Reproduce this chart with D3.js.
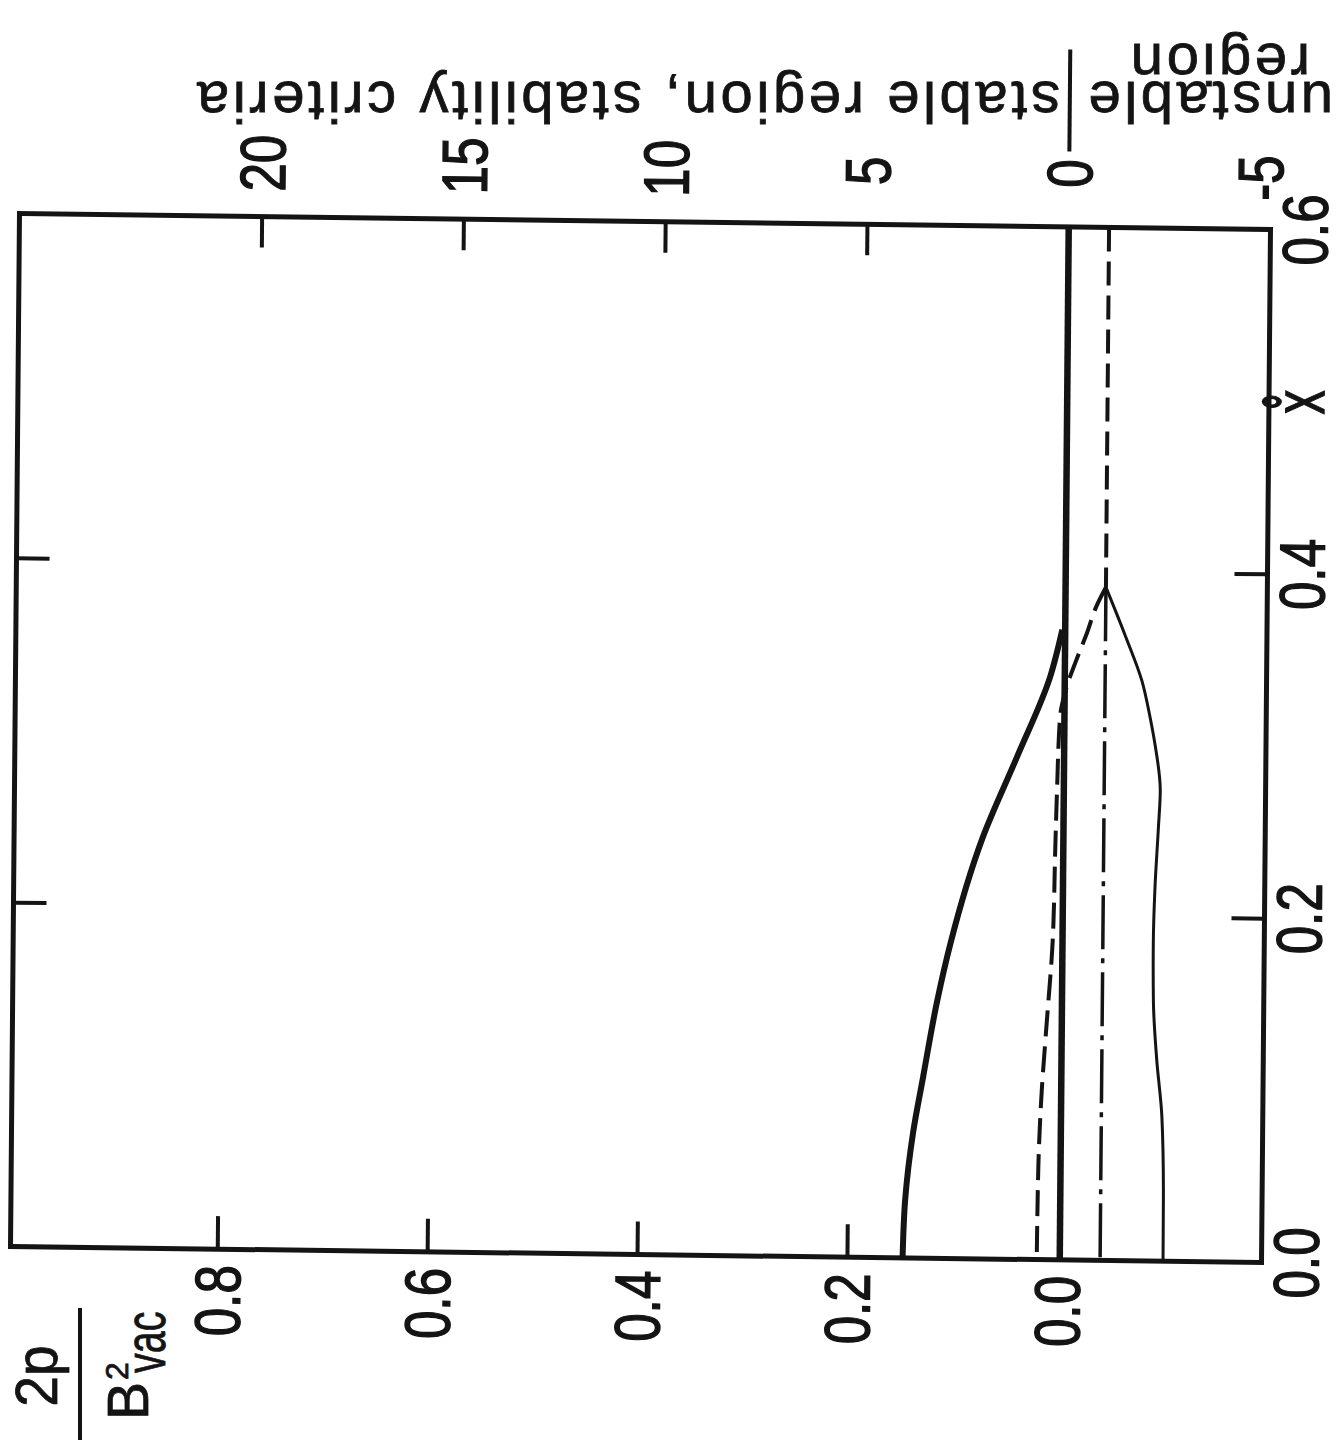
<!DOCTYPE html>
<html>
<head>
<meta charset="utf-8">
<script src="https://cdn.jsdelivr.net/npm/d3@7"></script>
<style>
  html, body { margin: 0; padding: 0; background: #fff; }
  svg { display: block; }
  text { font-family: "Liberation Sans", Arial, sans-serif; fill: #141414; stroke: #141414; stroke-width: 0.8; }
</style>
</head>
<body>
<svg id="chart" width="1341" height="1442"></svg>
<script>
// ---- scales / ticks ----
// profile coordinate x̊ (runs up the page)
const xTickValues = [0.2, 0.4];
const xLabelValues = [0.0, 0.2, 0.4, 0.6];
// normalised pressure 2p/B²vac (bottom scale)
const pTickValues = [0.2, 0.4, 0.6, 0.8];
const pLabelValues = [0.0, 0.2, 0.4, 0.6, 0.8];
// stability criteria (top scale)
const critTickValues = [20, 15, 10, 5, 0];
const critLabelValues = [20, 15, 10, 5, 0];
const critLabelEdge = [-5];

// ---- curves ----
// pressure profile 2p/B²vac against x̊
const pressureX = [0, 0.034, 0.073, 0.105, 0.150, 0.183, 0.245, 0.292, 0.339, 0.366];
const pressure  = [0.147, 0.145, 0.138, 0.129, 0.116, 0.104, 0.074, 0.042, 0.011, 0.0];

// marginal line of the stability criteria
const zeroX    = [0, 0.6];
const zeroCrit = [0, 0];

// dashed criterion
const dashedX    = [0, 0.054, 0.099, 0.132, 0.19, 0.238, 0.271, 0.315, 0.333, 0.349, 0.364, 0.38, 0.391, 0.6];
const dashedCrit = [0.57, 0.55, 0.48, 0.39, 0.235, 0.20, 0.17, 0.11, -0.05, -0.29, -0.535, -0.77, -1.0, -1.0];

// dash-dot criterion
const dashDotX    = [0, 0.391];
const dashDotCrit = [-1.0, -1.0];

// thin solid criterion
const thinX    = [0, 0.037, 0.084, 0.117, 0.151, 0.184, 0.217, 0.251, 0.273, 0.30, 0.316, 0.337, 0.363, 0.391];
const thinCrit = [-2.56, -2.555, -2.50, -2.36, -2.265, -2.25, -2.28, -2.35, -2.39, -2.25, -2.12, -1.91, -1.49, -1.0];

// ---- drawing ----
const W = 1341, H = 1442;
const ink = "#141414";
const frame = { left: 15, right: 1266, top: 221.5, bottom: 1254.5 };

const svg = d3.select("#chart");
svg.append("rect").attr("width", W).attr("height", H).attr("fill", "#fff");

const xScale = d3.scaleLinear().domain([0, 0.6]).range([frame.bottom, frame.top]);
const pScale = d3.scaleLinear().domain([0.997, -0.195]).range([frame.left, frame.right]);
const critScale = d3.scaleLinear().domain([26, -5]).range([frame.left, frame.right]);

// the sheet sits very slightly askew
const g = svg.append("g").attr("transform", "matrix(1,0.0128,-0.0087,1,6.42,-8.2)");

g.append("rect")
  .attr("x", frame.left).attr("y", frame.top)
  .attr("width", frame.right - frame.left).attr("height", frame.bottom - frame.top)
  .attr("fill", "none").attr("stroke", ink).attr("stroke-width", 5);

function styleAxis(sel) {
  sel.select(".domain").remove();
  sel.selectAll(".tick text").remove();
  sel.selectAll(".tick line").attr("stroke", ink).attr("stroke-width", 4);
}

g.append("g").attr("transform", `translate(${frame.left},0)`)
  .call(d3.axisLeft(xScale).tickValues(xTickValues).tickSize(-33)).call(styleAxis);
g.append("g").attr("transform", `translate(${frame.right},0)`)
  .call(d3.axisRight(xScale).tickValues(xTickValues).tickSize(-33)).call(styleAxis);
g.append("g").attr("transform", `translate(0,${frame.bottom})`)
  .call(d3.axisBottom(pScale).tickValues(pTickValues).tickSize(-33)).call(styleAxis);
g.append("g").attr("transform", `translate(0,${frame.top})`)
  .call(d3.axisTop(critScale).tickValues(critTickValues).tickSize(-31)).call(styleAxis);

const fmt1 = d3.format(".1f");
const tickFont = 64, tickSqueeze = 0.8;

function upward(cls, data, px, py, label) {
  g.selectAll("text." + cls).data(data).join("text").attr("class", cls)
    .attr("transform", d => `translate(${px(d)},${py(d)}) rotate(-90) scale(${tickSqueeze},1)`)
    .attr("text-anchor", "middle").attr("dy", "0.36em")
    .attr("font-size", tickFont).style("stroke-width", 1.4).text(label);
}

// x̊ labels, right side
upward("xl", xLabelValues, () => 1300, d => xScale(d), fmt1);
// 2p/B² labels, below
upward("pl", pLabelValues, d => pScale(d), () => 1306, fmt1);
// criteria labels, above
upward("cl", critLabelValues, d => critScale(d), () => 168, d => d);
upward("ce", critLabelEdge, d => critScale(d) - 11, () => 170, d => "-" + Math.abs(d));

// x̊ axis title
g.append("text")
  .attr("transform", `translate(1321,${xScale(0.5)}) rotate(-90) scale(0.62,1)`)
  .attr("text-anchor", "middle")
  .style("font-family", "'DejaVu Sans', 'Liberation Sans', sans-serif")
  .style("stroke-width", 1.4)
  .attr("font-size", 70).text("x\u030A");

// divider between the unstable and stable sides
g.append("line")
  .attr("x1", critScale(0)).attr("x2", critScale(0))
  .attr("y1", 44).attr("y2", 146)
  .attr("stroke", ink).attr("stroke-width", 4);

// curves
const pts = (xs, vs) => xs.map((x, i) => ({ x, v: vs[i] })).sort((a, b) => b.x - a.x);
const critLine = d3.line().x(d => critScale(d.v)).y(d => xScale(d.x)).curve(d3.curveMonotoneY);
const pLine = d3.line().x(d => pScale(d.v)).y(d => xScale(d.x)).curve(d3.curveMonotoneY);

function draw(path, width, dash) {
  g.append("path").attr("d", path)
    .attr("fill", "none").attr("stroke", ink)
    .attr("stroke-width", width)
    .attr("stroke-dasharray", dash || null)
    .attr("stroke-linejoin", "round");
}

draw(critLine(pts(zeroX, zeroCrit)), 6.5);
draw(pLine(pts(pressureX, pressure)), 6);
draw(critLine(pts(dashDotX, dashDotCrit)), 3.5, "54,9,5,9");

// the dashed criterion has a corner where it meets the other two curves
const cusp = thinX[thinX.length - 1];
const dashedAll = pts(dashedX, dashedCrit);
draw(critLine(dashedAll.filter(d => d.x <= cusp)), 4, "26,10");
draw(critLine(dashedAll.filter(d => d.x >= cusp)), 4, "24,10");

draw(critLine(pts(thinX, thinCrit)), 3);

// ---- header text (upside down) ----
function flipped(txt, x, y, size, spacing) {
  svg.append("text")
    .attr("transform", `translate(${x},${y}) rotate(180)`)
    .attr("font-size", size).attr("letter-spacing", spacing)
    .text(txt);
}
flipped("stable region, stability criteria", 1060, 82, 58, 3.6);
flipped("unstable", 1333, 82, 58, 3.6);
flipped("region", 1310, 44, 58, 3.6);

// ---- 2p / B²vac, reading upward ----
const frac = svg.append("g").attr("transform", "translate(80,1442) rotate(-90)");
frac.append("line").attr("x1", 2).attr("x2", 134).attr("y1", 0).attr("y2", 0)
  .attr("stroke", ink).attr("stroke-width", 4);
frac.append("text").attr("transform", "translate(66,-23) scale(0.92,1)")
  .attr("text-anchor", "middle").attr("font-size", 60).text("2p");
frac.append("text").attr("x", 22).attr("y", 68).attr("font-size", 57).text("B");
frac.append("text").attr("x", 62).attr("y", 48).attr("font-size", 32).text("2");
frac.append("text").attr("transform", "translate(69,85) scale(0.68,1)")
  .attr("font-size", 58).text("vac");
</script>
</body>
</html>
